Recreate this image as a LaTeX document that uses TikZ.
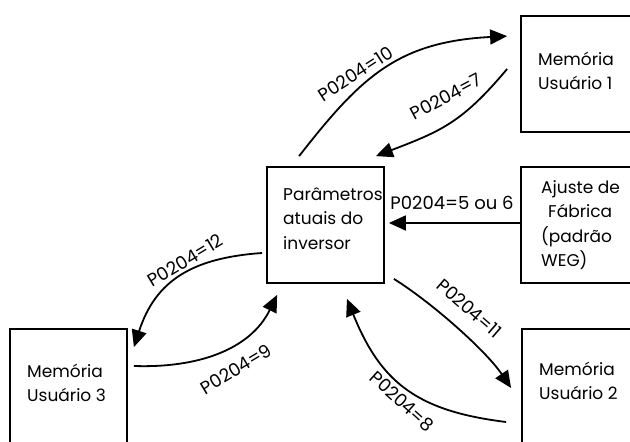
\documentclass[tikz,border=0pt]{standalone}
\usepackage{fontspec}
\setmainfont{Poppins}
\usetikzlibrary{arrows.meta,calc}
\begin{document}
\begin{tikzpicture}[x=1pt,y=1pt,
  box/.style={draw=black, line width=1.8pt, minimum width=117pt, minimum height=116pt, inner sep=0pt},
  boxtext/.style={anchor=north west, align=left, inner sep=0pt, font=\fontsize{17}{24.5}\selectfont},
  conn/.style={line width=1.8pt, -{Triangle[length=17pt,width=15pt]}},
  lbl/.style={font=\fontsize{18}{20}\selectfont, inner sep=0pt}]
\clip (0,0) rectangle (630,442);
\fill[white] (0,0) rectangle (630,442);
% boxes
\node[box] (par) at (325.5,217) {};
\node[box] (m1) at (579.5,368) {};
\node[box] (aj) at (579.5,217) {};
\node[box] (m2) at (580.5,55) {};
\node[box] (m3) at (68.5,55) {};
% box texts
\node[boxtext] (part) at (283,262) {\rule{0pt}{20pt}Parâmetros\\atuais do\\inversor};
\node[boxtext] (m1t) at (538,397) {\rule{0pt}{20pt}Memória\\Usuário 1};
\node[boxtext] (ajt) at (541,269) {\rule{0pt}{20pt}Ajuste de\\\hspace*{7pt}Fábrica\\(padrão\\WEG)};
\node[boxtext] (m2t) at (539,87) {\rule{0pt}{20pt}Memória\\Usuário 2};
\node[boxtext] (m3t) at (27,85) {\rule{0pt}{20pt}Memória\\Usuário 3};
% connectors
\draw[conn] ($(par.north west)+(33,10)$) .. controls +(52:100) and +(183:110) .. ($(m1.north west)+(-13,-21)$);
\draw[conn] ($(m1.west)+(-13,5)$) .. controls +(230:70) and +(21:70) .. ($(par.north east)+(-9,10)$);
\draw[conn] ($(aj.west)+(0,2)$) -- ($(par.east)+(4,2)$);
\draw[conn] ($(par.south east)+(9,5)$) .. controls +(-32:45) and +(124:45) .. ($(m2.west)+(-10,-1)$);
\draw[conn] ($(m2.west)+(-15,-35)$) .. controls +(173:90) and +(292:90) .. ($(par.south)+(21.5,-15)$);
\draw[conn] ($(par.west)+(-4,-28)$) .. controls +(184:70) and +(72:70) .. ($(m3.north east)+(6,-19)$);
\draw[conn] ($(m3.east)+(6,21)$) .. controls +(-2:62) and +(244:62) .. ($(par.south west)+(11,-11)$);
% labels
\node[lbl, rotate=33] (l10) at (355.5,368.5) {P0204=10};
\node[lbl, rotate=28] (l7) at (446,345.5) {P0204=7};
\node[lbl, anchor=base] (l56) at (452,232) {P0204=5 ou 6};
\node[lbl, rotate=-41] (l11) at (469.5,133.5) {P0204=11};
\node[lbl, rotate=-42] (l8) at (402,40.5) {P0204=8};
\node[lbl, rotate=31] (l12) at (185.5,181.5) {P0204=12};
\node[lbl, rotate=31] (l9) at (236,73) {P0204=9};
\end{tikzpicture}
\end{document}
